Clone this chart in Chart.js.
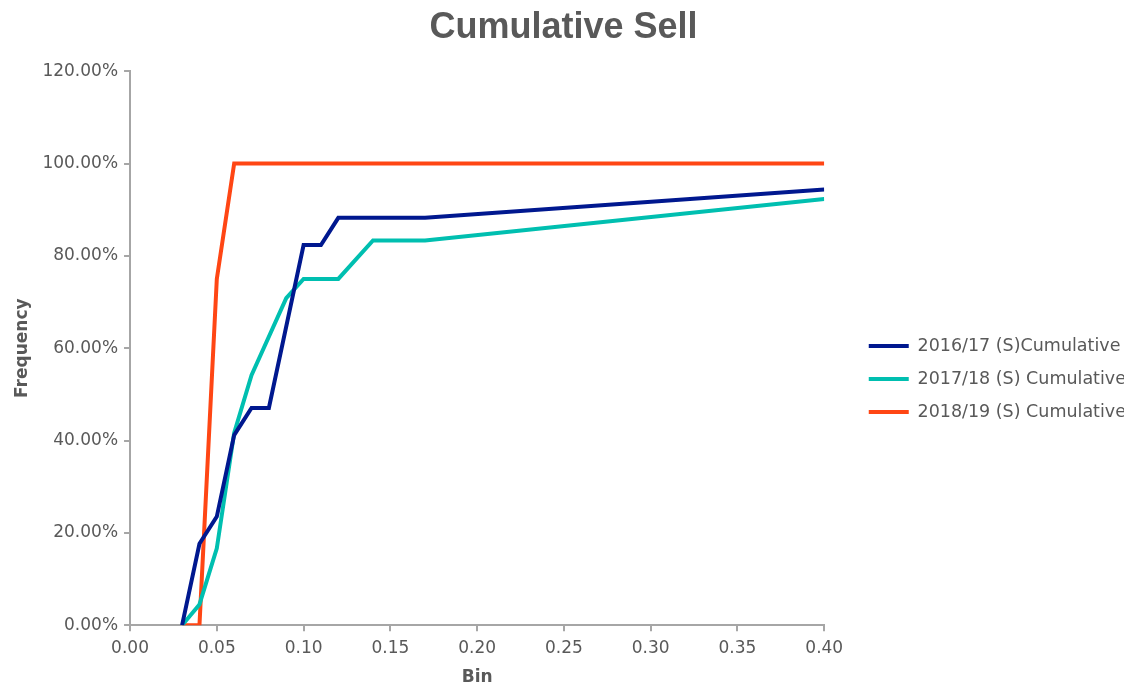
<!DOCTYPE html>
<html>
<head>
<meta charset="utf-8">
<script src="https://cdn.jsdelivr.net/npm/chart.js@4.4.1/dist/chart.umd.min.js"></script>
<style>
  html, body { margin: 0; padding: 0; background: #ffffff; }
  #wrap { width: 1128px; height: 687px; }
</style>
</head>
<body>
<div id="wrap"><canvas id="chart" width="1128" height="687"></canvas></div>
<script>
// Bin edges (x) and cumulative sell frequencies (%) per season
const bins1617 = [0.03, 0.04, 0.05, 0.06, 0.07, 0.08, 0.10, 0.11, 0.12, 0.17, 0.40];
const cum1617  = [0, 17.65, 23.53, 41.18, 47.06, 47.06, 82.35, 82.35, 88.24, 88.24, 94.4];

const bins1718 = [0.03, 0.04, 0.05, 0.06, 0.07, 0.09, 0.10, 0.12, 0.14, 0.17, 0.40];
const cum1718  = [0, 4.5, 16.67, 41.67, 54.17, 70.83, 75.0, 75.0, 83.33, 83.33, 92.3];

const bins1819 = [0.03, 0.04, 0.05, 0.06, 0.40];
const cum1819  = [0, 0, 75.0, 100, 100];

const seriesLabels = ['2016/17 (S)Cumulative', '2017/18 (S) Cumulative', '2018/19 (S) Cumulative'];
const seriesColors = ['#00188F', '#00BFB0', '#FF4614'];

const xTicks = [0, 0.05, 0.10, 0.15, 0.20, 0.25, 0.30, 0.35, 0.40];
const yTicks = [0, 20, 40, 60, 80, 100, 120];

const toPoints = (xs, ys) => xs.map((x, i) => ({ x: x, y: ys[i] }));

const textGray = '#595959';
const axisGray = '#A6A6A6';
const baseFont = 'DejaVu Sans';

const ds = (i, xs, ys) => ({
  label: seriesLabels[i],
  data: toPoints(xs, ys),
  borderColor: seriesColors[i],
  backgroundColor: seriesColors[i],
  borderWidth: 4,
  pointRadius: 0,
  pointHoverRadius: 0,
  tension: 0,
  pointStyle: 'line'
});

// Moves the legend block away from the plot and lower down, and re-centres the title on the page
const blockOffsets = {
  id: 'blockOffsets',
  afterLayout(chart) {
    const lg = chart.legend;
    if (lg) {
      const dx = 29, dy = 68;
      lg.left += dx;
      lg.right += dx;
      lg.top += dy;
    }
    const tb = chart.titleBlock;
    if (tb) {
      const tx = 10;
      tb.left += tx;
      tb.right += tx;
    }
  }
};

new Chart(document.getElementById('chart'), {
  type: 'line',
  data: {
    datasets: [
      ds(0, bins1617, cum1617),
      ds(1, bins1718, cum1718),
      ds(2, bins1819, cum1819)
    ]
  },
  plugins: [blockOffsets],
  options: {
    responsive: false,
    animation: false,
    devicePixelRatio: 1,
    layout: { padding: { left: 12, right: 33, top: 2, bottom: -1 } },
    plugins: {
      title: {
        display: true,
        text: 'Cumulative Sell',
        color: textGray,
        font: { family: 'Liberation Sans', size: 36, weight: 'bold' },
        padding: { top: 4, bottom: 22 }
      },
      legend: {
        position: 'right',
        align: 'center',
        labels: {
          usePointStyle: true,
          pointStyleWidth: 40,
          color: textGray,
          font: { family: baseFont, size: 17.5 },
          padding: 15.5
        }
      },
      tooltip: { enabled: false }
    },
    scales: {
      x: {
        type: 'linear',
        min: 0,
        max: 0.4,
        afterBuildTicks: (axis) => { axis.ticks = xTicks.map(v => ({ value: v })); },
        ticks: {
          color: textGray,
          font: { family: baseFont, size: 17 },
          padding: 7,
          maxRotation: 0,
          callback: (v) => Number(v).toFixed(2)
        },
        grid: { display: true, drawOnChartArea: false, drawTicks: true, tickLength: 6, color: axisGray, lineWidth: 2 },
        border: { display: true, color: axisGray, width: 2 },
        title: {
          display: true,
          text: 'Bin',
          color: textGray,
          font: { family: baseFont, size: 17, weight: 'bold' },
          padding: { top: 2, bottom: 0 }
        }
      },
      y: {
        min: 0,
        max: 120,
        afterBuildTicks: (axis) => { axis.ticks = yTicks.map(v => ({ value: v })); },
        ticks: {
          color: textGray,
          font: { family: baseFont, size: 17 },
          padding: 6,
          callback: (v) => Number(v).toFixed(2) + '%'
        },
        grid: { display: true, drawOnChartArea: false, drawTicks: true, tickLength: 6, color: axisGray, lineWidth: 2 },
        border: { display: true, color: axisGray, width: 2 },
        title: {
          display: true,
          text: 'Frequency',
          color: textGray,
          font: { family: baseFont, size: 17, weight: 'bold' },
          padding: { top: 0, bottom: 4 }
        }
      }
    }
  }
});
</script>
</body>
</html>
